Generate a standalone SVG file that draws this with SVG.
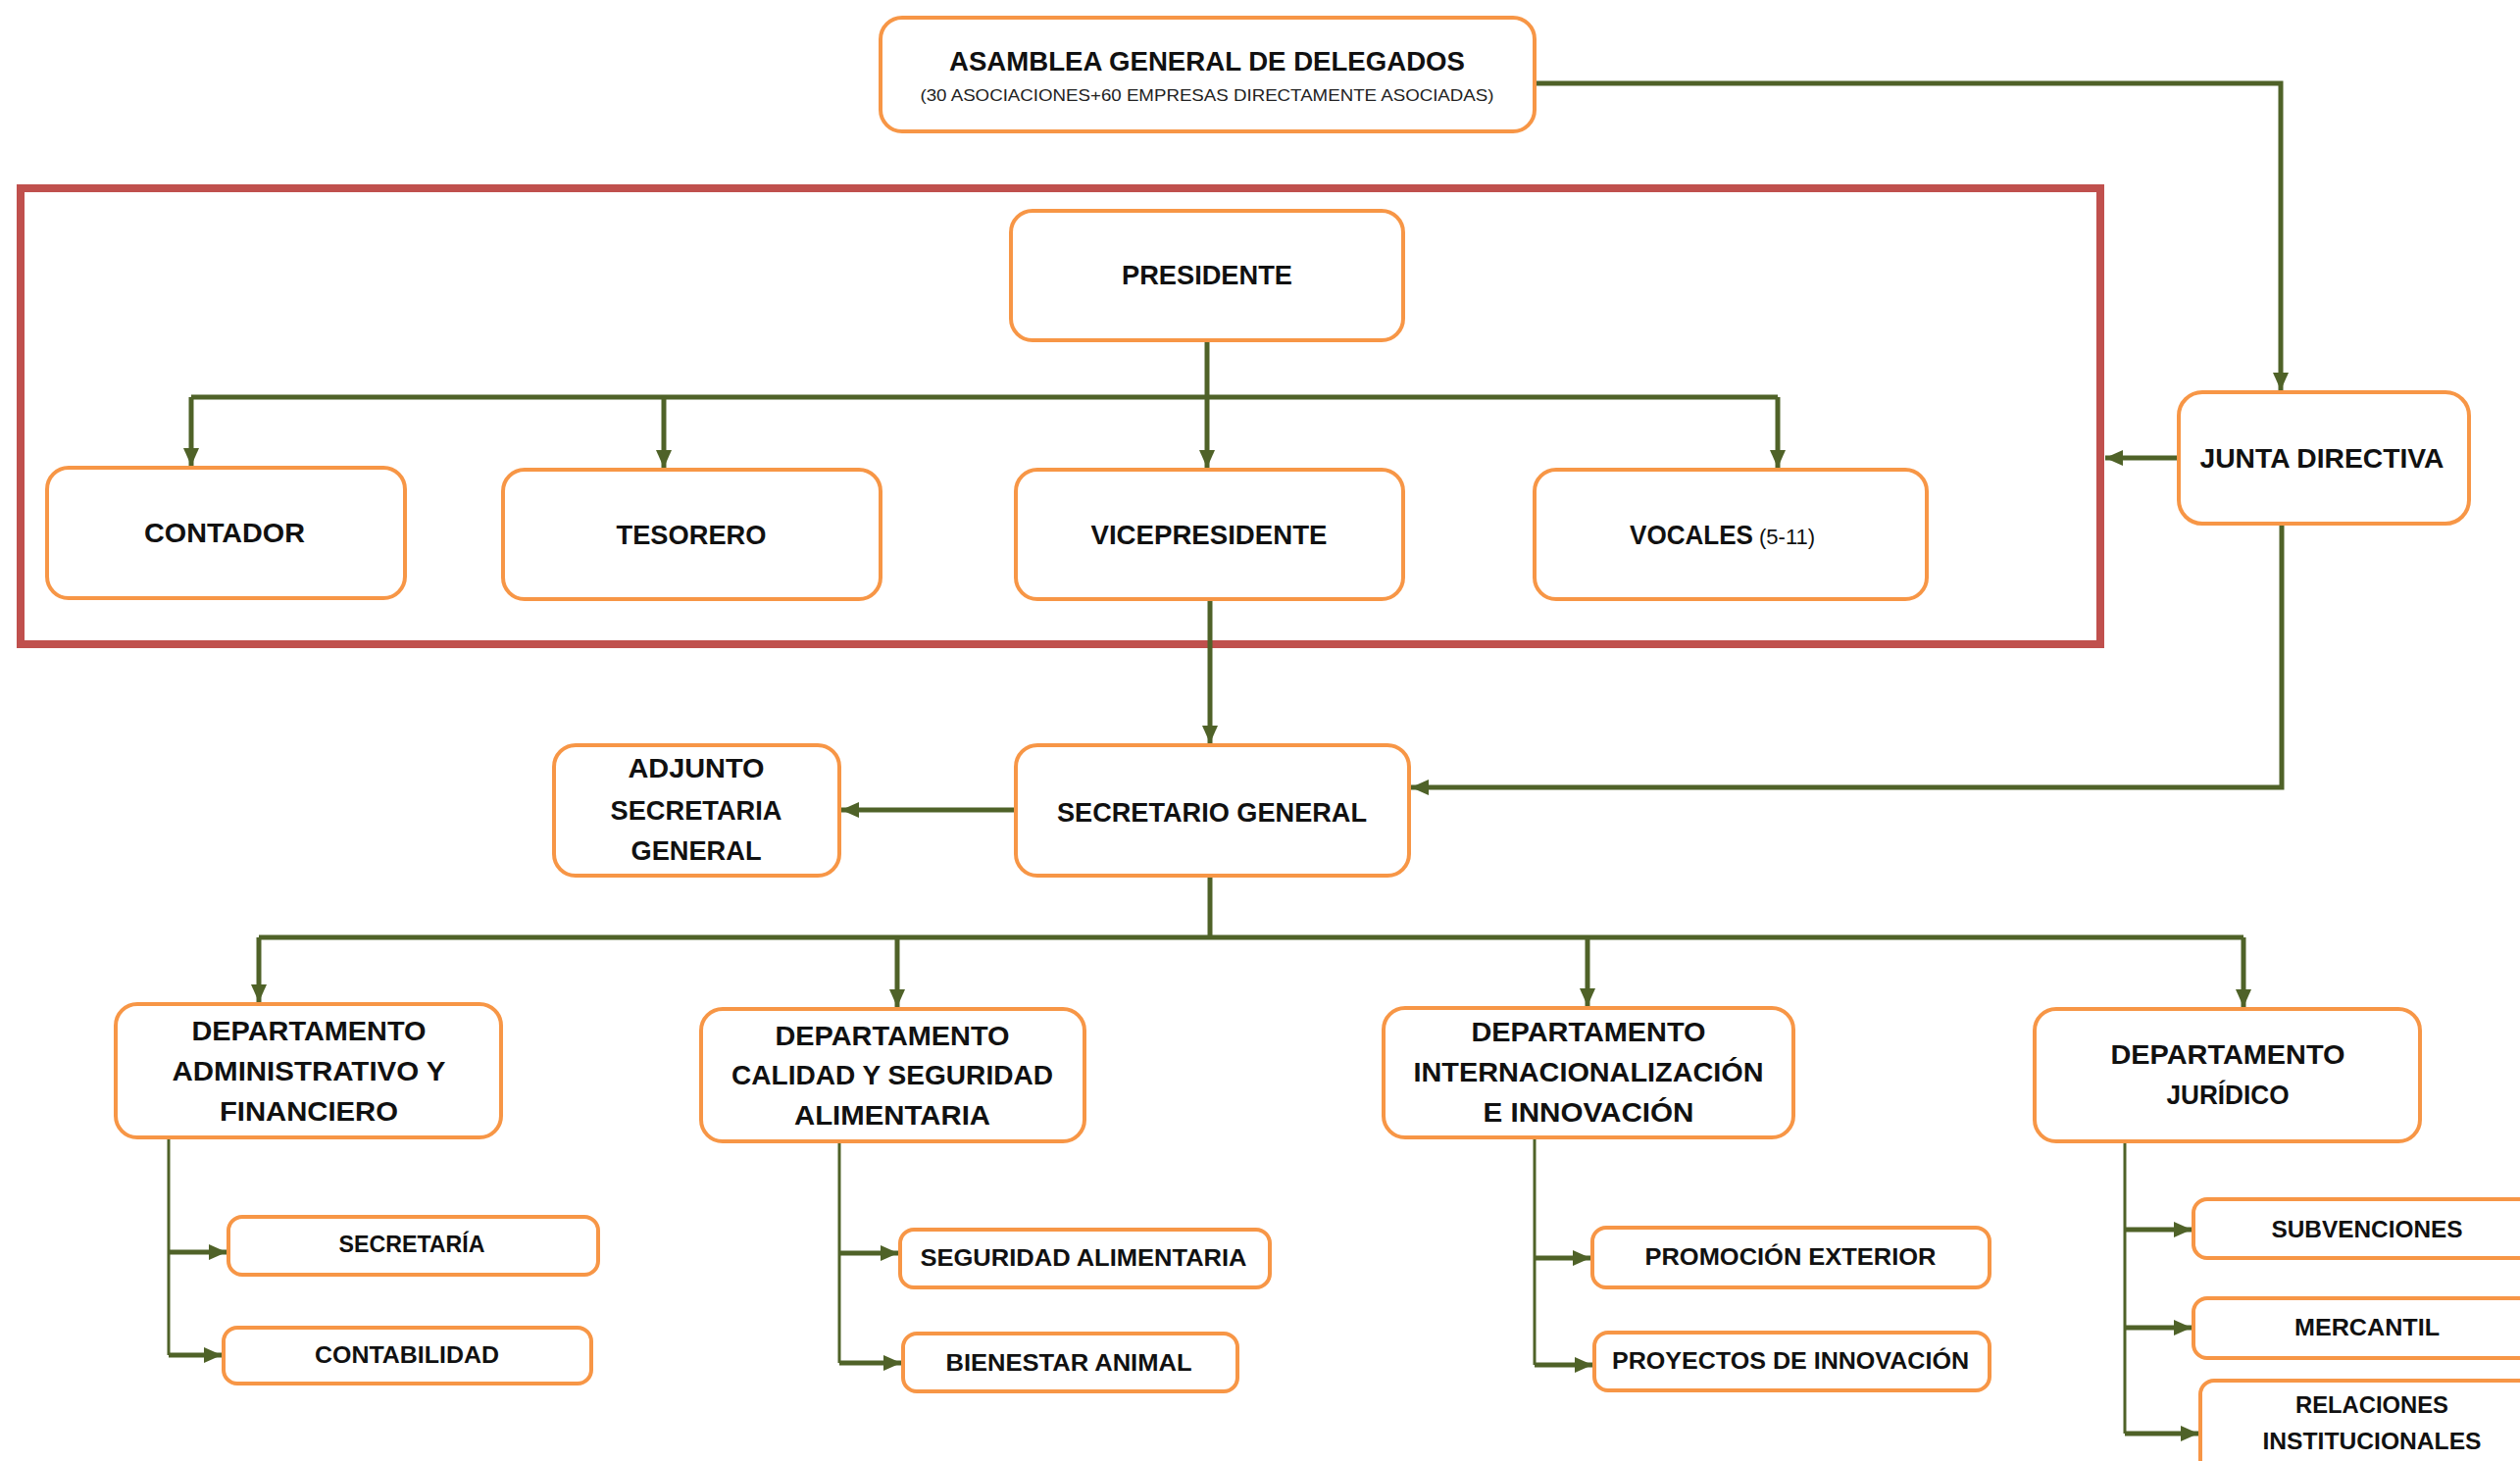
<svg xmlns="http://www.w3.org/2000/svg" width="2570" height="1490" viewBox="0 0 2570 1490">
<style>
.box{fill:#fff;stroke:#F79646;stroke-width:4}
.t{font-family:"Liberation Sans",Arial,sans-serif;font-weight:bold;font-size:28px;fill:#111;text-anchor:middle}
.s{font-family:"Liberation Sans",Arial,sans-serif;font-weight:bold;font-size:24px;fill:#111;text-anchor:middle}
.c{fill:none;stroke:#4F6228;stroke-width:5}
.cs{fill:none;stroke:#4F6228;stroke-width:3}
</style>
<defs>
<marker id="ah" markerUnits="userSpaceOnUse" markerWidth="18" markerHeight="16" refX="18" refY="8" orient="auto">
<path d="M0,0 L18,8 L0,16 z" fill="#4F6228"/>
</marker>
</defs>
<rect width="2570" height="1490" fill="#fff"/>
<rect id="consejo" x="21" y="192" width="2121" height="465" fill="none" stroke="#C0504D" stroke-width="8"/>
<g id="connectors">
<path class="c" d="M1565,85 H2326 V398" marker-end="url(#ah)"/>
<path class="c" d="M2222,467 H2147" marker-end="url(#ah)"/>
<path class="c" d="M2327,534 V803 H1439" marker-end="url(#ah)"/>
<path class="c" d="M1231,347 V477" marker-end="url(#ah)"/>
<path class="c" d="M195,405 H1813"/>
<path class="c" d="M195,405 V475" marker-end="url(#ah)"/>
<path class="c" d="M677,405 V477" marker-end="url(#ah)"/>
<path class="c" d="M1813,405 V477" marker-end="url(#ah)"/>
<path class="c" d="M1234,611 V758" marker-end="url(#ah)"/>
<path class="c" d="M1036,826 H858" marker-end="url(#ah)"/>
<path class="c" d="M1234,893 V956"/>
<path class="c" d="M264,956 H2288"/>
<path class="c" d="M264,956 V1022" marker-end="url(#ah)"/>
<path class="c" d="M915,956 V1027" marker-end="url(#ah)"/>
<path class="c" d="M1619,956 V1026" marker-end="url(#ah)"/>
<path class="c" d="M2288,956 V1027" marker-end="url(#ah)"/>
<path class="cs" d="M172,1160 V1382"/>
<path class="c" d="M172,1277 H231" marker-end="url(#ah)"/>
<path class="c" d="M172,1382 H226" marker-end="url(#ah)"/>
<path class="cs" d="M856,1164 V1390"/>
<path class="c" d="M856,1278 H916" marker-end="url(#ah)"/>
<path class="c" d="M856,1390 H919" marker-end="url(#ah)"/>
<path class="cs" d="M1565,1160 V1392"/>
<path class="c" d="M1565,1283 H1622" marker-end="url(#ah)"/>
<path class="c" d="M1565,1392 H1624" marker-end="url(#ah)"/>
<path class="cs" d="M2167,1164 V1462"/>
<path class="c" d="M2167,1254 H2235" marker-end="url(#ah)"/>
<path class="c" d="M2167,1354 H2235" marker-end="url(#ah)"/>
<path class="c" d="M2167,1462 H2242" marker-end="url(#ah)"/>
</g>
<g id="asamblea">
<rect class="box" x="898" y="18" width="667" height="116" rx="22"/>
<text class="t" x="1231" y="72" textLength="526" lengthAdjust="spacingAndGlyphs">ASAMBLEA GENERAL DE DELEGADOS</text>
<text x="1231" y="103" font-family="Liberation Sans, Arial, sans-serif" font-size="17" fill="#222" text-anchor="middle" textLength="585" lengthAdjust="spacingAndGlyphs">(30 ASOCIACIONES+60 EMPRESAS DIRECTAMENTE ASOCIADAS)</text>
</g>
<g id="presidente">
<rect class="box" x="1031" y="215" width="400" height="132" rx="22"/>
<text class="t" x="1231" y="290" textLength="174" lengthAdjust="spacingAndGlyphs">PRESIDENTE</text>
</g>
<g id="contador">
<rect class="box" x="48" y="477" width="365" height="133" rx="22"/>
<text class="t" x="229" y="553" textLength="164" lengthAdjust="spacingAndGlyphs">CONTADOR</text>
</g>
<g id="tesorero">
<rect class="box" x="513" y="479" width="385" height="132" rx="22"/>
<text class="t" x="705" y="555" textLength="153" lengthAdjust="spacingAndGlyphs">TESORERO</text>
</g>
<g id="vicepresidente">
<rect class="box" x="1036" y="479" width="395" height="132" rx="22"/>
<text class="t" x="1233" y="555" textLength="241" lengthAdjust="spacingAndGlyphs">VICEPRESIDENTE</text>
</g>
<g id="vocales">
<rect class="box" x="1565" y="479" width="400" height="132" rx="22"/>
<text class="t" x="1662" y="555" style="text-anchor:start"><tspan textLength="126" lengthAdjust="spacingAndGlyphs">VOCALES</tspan><tspan font-weight="normal" font-size="22" dx="6">(5-11)</tspan></text>
</g>
<g id="junta">
<rect class="box" x="2222" y="400" width="296" height="134" rx="24"/>
<text class="t" x="2368" y="477" textLength="249" lengthAdjust="spacingAndGlyphs">JUNTA DIRECTIVA</text>
</g>
<g id="secretario">
<rect class="box" x="1036" y="760" width="401" height="133" rx="22"/>
<text class="t" x="1236" y="838" textLength="316" lengthAdjust="spacingAndGlyphs">SECRETARIO GENERAL</text>
</g>
<g id="adjunto">
<rect class="box" x="565" y="760" width="291" height="133" rx="22"/>
<text class="t" x="710" y="793" textLength="139" lengthAdjust="spacingAndGlyphs">ADJUNTO</text>
<text class="t" x="710" y="836" textLength="175" lengthAdjust="spacingAndGlyphs">SECRETARIA</text>
<text class="t" x="710" y="877" textLength="133" lengthAdjust="spacingAndGlyphs">GENERAL</text>
</g>
<g id="dep-admin">
<rect class="box" x="118" y="1024" width="393" height="136" rx="22"/>
<text class="t" x="315" y="1061" textLength="239" lengthAdjust="spacingAndGlyphs">DEPARTAMENTO</text>
<text class="t" x="315" y="1102" textLength="279" lengthAdjust="spacingAndGlyphs">ADMINISTRATIVO Y</text>
<text class="t" x="315" y="1143" textLength="182" lengthAdjust="spacingAndGlyphs">FINANCIERO</text>
</g>
<g id="dep-calidad">
<rect class="box" x="715" y="1029" width="391" height="135" rx="22"/>
<text class="t" x="910" y="1066" textLength="239" lengthAdjust="spacingAndGlyphs">DEPARTAMENTO</text>
<text class="t" x="910" y="1106" textLength="328" lengthAdjust="spacingAndGlyphs">CALIDAD Y SEGURIDAD</text>
<text class="t" x="910" y="1147" textLength="200" lengthAdjust="spacingAndGlyphs">ALIMENTARIA</text>
</g>
<g id="dep-intern">
<rect class="box" x="1411" y="1028" width="418" height="132" rx="22"/>
<text class="t" x="1620" y="1062" textLength="239" lengthAdjust="spacingAndGlyphs">DEPARTAMENTO</text>
<text class="t" x="1620" y="1103" textLength="357" lengthAdjust="spacingAndGlyphs">INTERNACIONALIZACIÓN</text>
<text class="t" x="1620" y="1144" textLength="215" lengthAdjust="spacingAndGlyphs">E INNOVACIÓN</text>
</g>
<g id="dep-juridico">
<rect class="box" x="2075" y="1029" width="393" height="135" rx="22"/>
<text class="t" x="2272" y="1085" textLength="239" lengthAdjust="spacingAndGlyphs">DEPARTAMENTO</text>
<text class="t" x="2272" y="1126" textLength="125" lengthAdjust="spacingAndGlyphs">JURÍDICO</text>
</g>
<g id="secretaria">
<rect class="box" x="233" y="1241" width="377" height="59" rx="14"/>
<text class="s" x="420" y="1277" textLength="149" lengthAdjust="spacingAndGlyphs">SECRETARÍA</text>
</g>
<g id="contabilidad">
<rect class="box" x="228" y="1354" width="375" height="57" rx="14"/>
<text class="s" x="415" y="1390" textLength="188" lengthAdjust="spacingAndGlyphs">CONTABILIDAD</text>
</g>
<g id="seguridad">
<rect class="box" x="918" y="1254" width="377" height="59" rx="14"/>
<text class="s" x="1105" y="1291" textLength="333" lengthAdjust="spacingAndGlyphs">SEGURIDAD ALIMENTARIA</text>
</g>
<g id="bienestar">
<rect class="box" x="921" y="1360" width="341" height="59" rx="14"/>
<text class="s" x="1090" y="1398" textLength="251" lengthAdjust="spacingAndGlyphs">BIENESTAR ANIMAL</text>
</g>
<g id="promocion">
<rect class="box" x="1624" y="1252" width="405" height="61" rx="14"/>
<text class="s" x="1826" y="1290" textLength="297" lengthAdjust="spacingAndGlyphs">PROMOCIÓN EXTERIOR</text>
</g>
<g id="proyectos">
<rect class="box" x="1626" y="1359" width="403" height="59" rx="14"/>
<text class="s" x="1826" y="1396" textLength="364" lengthAdjust="spacingAndGlyphs">PROYECTOS DE INNOVACIÓN</text>
</g>
<g id="subvenciones">
<rect class="box" x="2237" y="1223" width="360" height="60" rx="14"/>
<text class="s" x="2414" y="1262" textLength="195" lengthAdjust="spacingAndGlyphs">SUBVENCIONES</text>
</g>
<g id="mercantil">
<rect class="box" x="2237" y="1324" width="360" height="61" rx="14"/>
<text class="s" x="2414" y="1362" textLength="148" lengthAdjust="spacingAndGlyphs">MERCANTIL</text>
</g>
<g id="relaciones">
<rect class="box" x="2244" y="1408" width="360" height="100" rx="14"/>
<text class="s" x="2419" y="1441" textLength="156" lengthAdjust="spacingAndGlyphs">RELACIONES</text>
<text class="s" x="2419" y="1478" textLength="223" lengthAdjust="spacingAndGlyphs">INSTITUCIONALES</text>
</g>
</svg>
